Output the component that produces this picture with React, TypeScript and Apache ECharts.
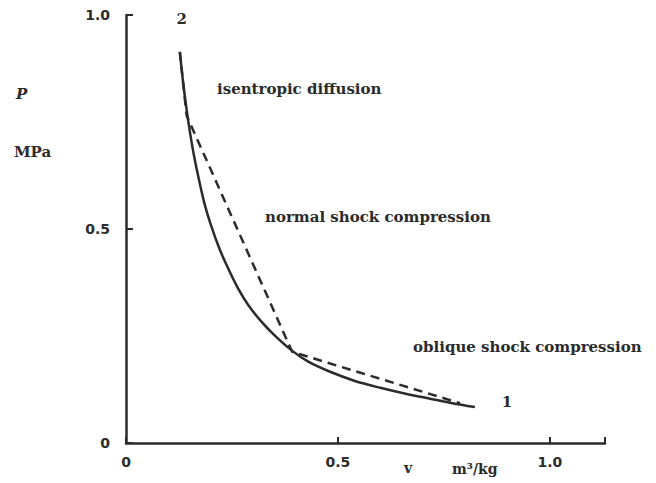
import React, { useEffect, useRef } from "react";
import * as echarts from "echarts";

// Isentropic compression curve from state 1 to state 2 (v in m³/kg, p in MPa)
const isentropeV = [
  0.127, 0.135, 0.145, 0.157, 0.17, 0.185, 0.2, 0.22, 0.24, 0.265, 0.29,
  0.32, 0.35, 0.39, 0.43, 0.48, 0.54, 0.6, 0.66, 0.72, 0.77, 0.823,
];
const isentropeP = [
  0.914, 0.84, 0.765, 0.69, 0.625, 0.56, 0.51, 0.455, 0.41, 0.36, 0.32,
  0.283, 0.252, 0.217, 0.19, 0.167, 0.145, 0.129, 0.115, 0.103, 0.093, 0.084,
];

// Shock path: oblique shock, then normal shock, then isentropic diffusion
const shockV = [0.127, 0.136, 0.143, 0.392, 0.788];
const shockP = [0.914, 0.83, 0.765, 0.213, 0.093];

// State labels at the ends of the isentrope
const stateNames = ["2", "1"];

const xTickValues = [0, 0.5, 1.0];
const xTickLabels = ["0", "0.5", "1.0"];
const yTickValues = [0, 0.5, 1.0];
const yTickLabels = ["0", "0.5", "1.0"];

const INK = "#2b2b2b";
const SERIF = "'DejaVu Serif', 'Liberation Serif', serif";
const SANS = "'DejaVu Sans', 'Liberation Sans', sans-serif";

export default function App() {
  const ref = useRef<HTMLDivElement>(null);

  useEffect(() => {
    if (!ref.current) return;
    const chart = echarts.init(ref.current, undefined, { renderer: "svg" });

    const isentrope = isentropeV.map((v, i) => [v, isentropeP[i]]);
    const shock = shockV.map((v, i) => [v, shockP[i]]);
    const last = isentrope.length - 1;

    const note = (text: string, x: number, y: number, font: string) => ({
      type: "text",
      x,
      y,
      style: { text, font, fill: INK, textVerticalAlign: "middle" },
    });

    const pickLabel = (values: number[], labels: string[]) => (v: number) => {
      const i = values.findIndex((t) => Math.abs(t - v) < 1e-6);
      return i >= 0 ? labels[i] : "";
    };

    const stateLabel = (text: string, offset: number[]) => ({
      show: true,
      position: "inside",
      formatter: text,
      offset,
      color: INK,
      opacity: 1,
      textBorderWidth: 0,
      fontFamily: SERIF,
      fontSize: 15,
      fontWeight: "bold",
    });

    chart.setOption({
      animation: false,
      backgroundColor: "#ffffff",
      color: [INK, INK, INK],
      grid: { left: 126, top: 15, right: 51, bottom: 40 },
      xAxis: {
        type: "value",
        min: 0,
        max: 1.13,
        interval: 0.5,
        splitLine: { show: false },
        axisLine: { lineStyle: { color: INK, width: 2.5 } },
        axisTick: {
          show: true,
          inside: true,
          length: 6,
          lineStyle: { color: INK, width: 2 },
        },
        axisLabel: {
          customValues: xTickValues,
          margin: 12,
          color: INK,
          fontFamily: SANS,
          fontWeight: "bold",
          fontSize: 14,
          formatter: pickLabel(xTickValues, xTickLabels),
        },
      },
      yAxis: {
        type: "value",
        min: 0,
        max: 1,
        interval: 0.5,
        splitLine: { show: false },
        axisLine: { lineStyle: { color: INK, width: 2.5 } },
        axisTick: {
          show: true,
          inside: true,
          length: 7,
          lineStyle: { color: INK, width: 2 },
        },
        axisLabel: {
          customValues: yTickValues,
          margin: 16,
          color: INK,
          fontFamily: SANS,
          fontWeight: "bold",
          fontSize: 14,
          formatter: pickLabel(yTickValues, yTickLabels),
        },
      },
      series: [
        {
          name: "isentrope",
          type: "line",
          data: isentrope,
          smooth: 0.3,
          symbol: "none",
          lineStyle: { color: INK, width: 2.5 },
        },
        {
          name: "shock path",
          type: "line",
          data: shock,
          symbol: "none",
          lineStyle: { color: INK, width: 2.5, type: [9, 6] },
        },
        {
          name: "states",
          type: "scatter",
          symbolSize: 0,
          silent: true,
          itemStyle: { color: INK, opacity: 1 },
          data: [
            { value: isentrope[0], label: stateLabel(stateNames[0], [2, -33]) },
            { value: isentrope[last], label: stateLabel(stateNames[1], [32, -5]) },
          ],
        },
      ],
      graphic: [
        note("P", 16, 94, `italic bold 15px ${SERIF}`),
        note("MPa", 14, 152, `bold 15px ${SERIF}`),
        note("isentropic diffusion", 217, 89, `bold 15px ${SERIF}`),
        note("normal shock compression", 265, 217, `bold 15px ${SERIF}`),
        note("oblique shock compression", 413, 347, `bold 15px ${SERIF}`),
        note("v", 404, 468, `bold 14px ${SERIF}`),
        note("m³/kg", 452, 469, `bold 14px ${SERIF}`),
      ],
    });

    return () => chart.dispose();
  }, []);

  return (
    <div
      ref={ref}
      style={{ position: "absolute", left: 0, top: 0, width: 656, height: 483, background: "#fff" }}
    />
  );
}
